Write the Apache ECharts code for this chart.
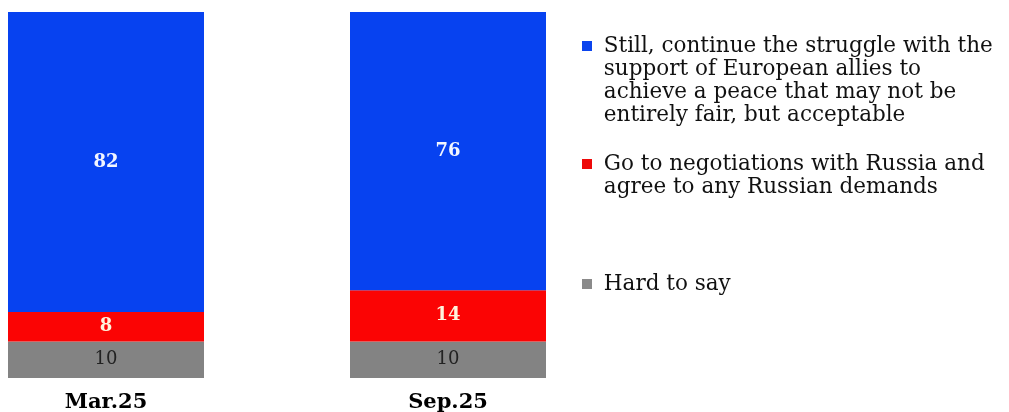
<!DOCTYPE html>
<html>
<head>
<meta charset="utf-8">
<script src="https://cdn.jsdelivr.net/npm/echarts@6/dist/echarts.min.js"></script>
<style>
  html, body { margin: 0; padding: 0; background: #ffffff; }
  #chart { width: 1009px; height: 412px; }
</style>
</head>
<body>
<div id="chart"></div>
<script>
// Survey waves
const categories = ['Mar.25', 'Sep.25'];

// Answer options (legend text, wrapped as displayed)
const answerContinue = 'Still, continue the struggle with the\nsupport of European allies to\nachieve a peace that may not be\nentirely fair, but acceptable';
const answerNegotiate = 'Go to negotiations with Russia and\nagree to any Russian demands';
const answerHard = 'Hard to say';

// Shares, %
const continueValues = [82, 76];
const negotiateValues = [8, 14];
const hardValues = [10, 10];

const SERIF = '"DejaVu Serif", "Liberation Serif", serif';
const LINE_H = 23;
const LEGEND_PAD = 5;

const chart = echarts.init(document.getElementById('chart'), null, { renderer: 'canvas' });

// One legend per answer so each can sit at its own height. Blank lines are
// put in front of the text so the square marker lines up with its first line.
function legendFor(name, color, iconCenterY) {
  const lines = name.split('\n');
  const n = lines.length;
  const halfBlock = (2 * n - 1) * LINE_H / 2;
  return {
    data: [{ name: name, itemStyle: { color: color } }],
    left: 577,
    top: iconCenterY - halfBlock - LEGEND_PAD,
    orient: 'vertical',
    icon: 'rect',
    itemWidth: 10,
    itemHeight: 10,
    itemGap: 0,
    selectedMode: false,
    padding: LEGEND_PAD,
    formatter: function () {
      return '\n'.repeat(n - 1) + lines.map(l => ' ' + l).join('\n');
    },
    textStyle: {
      fontFamily: SERIF,
      fontSize: 21.5,
      color: '#111111',
      lineHeight: LINE_H
    }
  };
}

const barLabel = (color, bold) => ({
  show: true,
  position: 'inside',
  fontFamily: SERIF,
  fontSize: 18,
  fontWeight: bold ? 'bold' : 'normal',
  color: color
});

chart.setOption({
  animation: false,
  backgroundColor: '#ffffff',
  grid: {
    left: 106, right: 561, top: 12, bottom: 34,
    containLabel: false,
    outerBoundsMode: 'none'
  },
  legend: [
    legendFor(answerContinue, '#0b44ee', 46),
    legendFor(answerNegotiate, '#ee0a0a', 164),
    legendFor(answerHard, '#8a8a8a', 284)
  ],
  xAxis: {
    type: 'category',
    data: categories,
    boundaryGap: false,
    axisLine: { show: false },
    axisTick: { show: false },
    splitLine: { show: false },
    axisLabel: {
      margin: 14,
      fontFamily: SERIF,
      fontSize: 21,
      fontWeight: 'bold',
      color: '#000000'
    }
  },
  yAxis: {
    type: 'value',
    min: 0,
    max: 100,
    show: false
  },
  series: [
    {
      name: answerHard,
      type: 'bar',
      stack: 'total',
      barWidth: 196,
      data: hardValues,
      itemStyle: { color: '#838383' },
      label: barLabel('#222222', false)
    },
    {
      name: answerNegotiate,
      type: 'bar',
      stack: 'total',
      barWidth: 196,
      data: negotiateValues,
      itemStyle: { color: '#fb0404' },
      label: barLabel('#fff4dc', true)
    },
    {
      name: answerContinue,
      type: 'bar',
      stack: 'total',
      barWidth: 196,
      data: continueValues,
      itemStyle: { color: '#0742f0' },
      label: barLabel('#f2f6ff', true)
    }
  ]
});
</script>
</body>
</html>
